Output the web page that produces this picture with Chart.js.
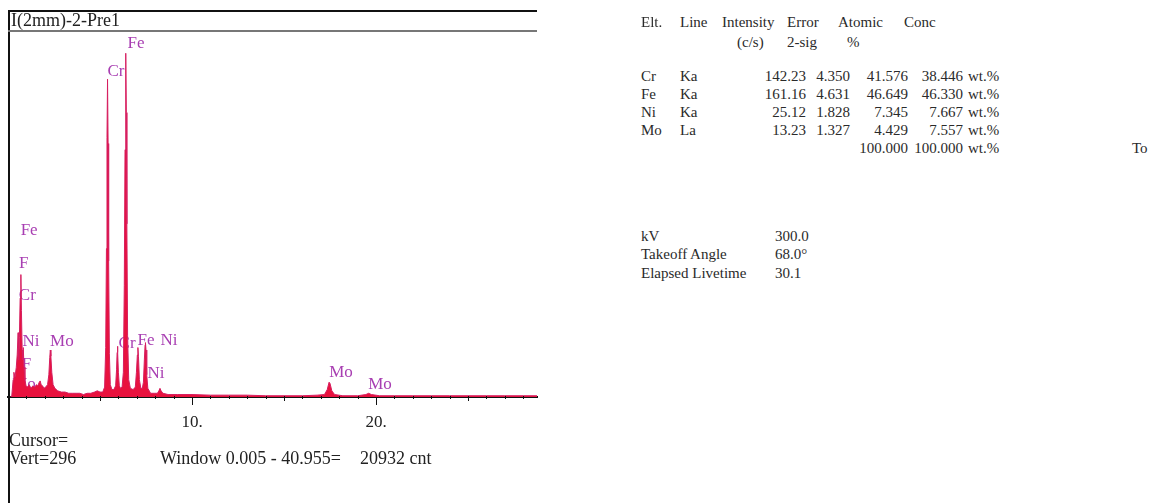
<!DOCTYPE html>
<html>
<head>
<meta charset="utf-8">
<script src="https://cdn.jsdelivr.net/npm/chart.js@4.4.1/dist/chart.umd.min.js"></script>
<style>
  body { margin: 0; background: #fff; width: 1149px; height: 503px; overflow: hidden; position: relative;
         font-family: "Liberation Serif", "Times New Roman", serif; color: #222; }
  #wrap { position: absolute; left: 0; top: 0; width: 545px; height: 503px; }
  .t { position: absolute; white-space: nowrap; line-height: 20px; }
  .r { text-align: right; }
  .frameL { position: absolute; left: 8px; top: 10px; width: 2px; height: 493px; background: #111; }
  .frameT { position: absolute; left: 8px; top: 10px; width: 529px; height: 1.5px; background: #111; }
  .frameB { position: absolute; left: 8px; top: 30px; width: 529px; height: 2px; background: #777; }
  #table { font-size: 15px; color: #2a2a2a; }
  #info { font-size: 18px; }
</style>
</head>
<body>
<div id="wrap"><canvas id="spectrum" width="545" height="503"></canvas></div>
<div class="frameL"></div><div class="frameT"></div><div class="frameB"></div>
<div id="info">
  <div class="t" style="left:11px;top:10px;">I(2mm)-2-Pre1</div>
  <div class="t" style="left:9px;top:430px;">Cursor=</div>
  <div class="t" style="left:9px;top:448px;">Vert=296</div>
  <div class="t" style="left:160px;top:448px;">Window 0.005 - 40.955=</div>
  <div class="t" style="left:360px;top:448px;">20932 cnt</div>
</div>
<div id="table"></div>
<script>
// spectrum, energy in keV and counts
const energy = [0.00, 0.20, 0.28, 0.32, 0.38, 0.45, 0.50, 0.55, 0.58, 0.62, 0.66, 0.70, 0.73, 0.77, 0.80, 0.83, 0.87, 0.92, 0.98,
  1.05, 1.15, 1.25, 1.35, 1.45, 1.55, 1.62, 1.70, 1.75, 1.80, 1.88, 1.95, 2.05, 2.15, 2.22, 2.27, 2.30, 2.33, 2.38, 2.45, 2.55,
  2.70, 2.90, 3.10, 3.30, 3.50, 3.70, 3.90, 4.10, 4.30, 4.50, 4.70, 4.85, 5.00, 5.15, 5.25, 5.31, 5.35, 5.38, 5.41, 5.44, 5.47,
  5.51, 5.56, 5.65, 5.75, 5.85, 5.90, 5.93, 5.95, 5.97, 6.00, 6.05, 6.12, 6.20, 6.27, 6.32, 6.36, 6.40, 6.43, 6.46, 6.50, 6.56,
  6.65, 6.80, 6.92, 6.98, 7.03, 7.06, 7.09, 7.14, 7.22, 7.30, 7.36, 7.41, 7.45, 7.47, 7.50, 7.54, 7.60, 7.75, 7.95, 8.12, 8.20,
  8.26, 8.32, 8.42, 8.70, 9.20, 10.0, 11.0, 12.0, 13.0, 14.0, 15.0, 16.0, 16.8, 17.2, 17.35, 17.45, 17.50, 17.60, 17.75, 18.2,
  19.0, 19.45, 19.60, 19.75, 20.2, 21.0, 22.0, 23.0, 24.0, 25.0, 26.0, 27.0, 28.0, 28.75];
const counts = [0, 0, 14, 20, 16, 24, 34, 52, 30, 48, 80, 99, 70, 38, 30, 40, 24, 14, 9,
  8, 10, 7, 9, 8, 10, 9, 12, 13, 10, 9, 7, 8, 10, 18, 32, 38, 33, 20, 10, 7,
  5, 4, 4, 3, 3, 3, 3, 2, 3, 3, 4, 5, 4, 4, 8, 40, 120, 210, 257, 205, 110,
  35, 10, 6, 6, 9, 22, 36, 41, 36, 20, 9, 7, 8, 20, 90, 200, 278, 230, 140, 50, 14,
  7, 6, 8, 20, 34, 40, 33, 14, 7, 7, 12, 30, 42, 44, 38, 18, 7, 3, 3, 3, 5,
  7, 5, 3, 2, 2, 2, 1.5, 1.5, 1.5, 1, 1, 1, 1.5, 2, 6, 12, 11, 5, 2, 1,
  1, 2, 3, 2, 1, 1, 1, 1, 1, 1, 1, 1, 1, 1];

// element markers on the spectrum
const markText = ['Fe', 'Cr', 'Fe', 'F', 'Cr', 'Ni', 'Mo', 'F', 'Mo', 'Cr', 'Fe', 'Ni', 'Ni', 'Mo', 'Mo'];
const markEnergy = [6.96, 5.87, 1.15, 0.85, 1.05, 1.25, 2.93, 1.0, 0.87, 6.47, 7.50, 8.75, 8.04, 18.10, 20.22];
const markCounts = [286, 263, 135, 108, 82, 45, 45, 26, 10, 43, 46, 46, 19, 20, 10];

const tickLabels = { 10: '10.', 20: '20.' };
const vertScale = 296;

// quant table
const elts = ['Cr', 'Fe', 'Ni', 'Mo'];
const lines = ['Ka', 'Ka', 'Ka', 'La'];
const intensity = ['142.23', '161.16', '25.12', '13.23'];
const errors = ['4.350', '4.631', '1.828', '1.327'];
const atomic = ['41.576', '46.649', '7.345', '4.429'];
const conc = ['38.446', '46.330', '7.667', '7.557'];

function txt(s, x, y, right) {
  if (right) return `<div class="t r" style="right:${1149 - x}px;top:${y - 10}px;">${s}</div>`;
  return `<div class="t" style="left:${x}px;top:${y - 10}px;">${s}</div>`;
}

let html = '';
html += txt('Elt.', 641, 22) + txt('Line', 680, 22) + txt('Intensity', 722, 22) + txt('Error', 787, 22)
  + txt('Atomic', 838, 22) + txt('Conc', 904, 22);
html += txt('(c/s)', 737, 42) + txt('2-sig', 787, 42) + txt('%', 847, 42);
elts.forEach((e, i) => {
  const y = 76 + i * 18;
  html += txt(e, 641, y) + txt(lines[i], 680, y) + txt(intensity[i], 806, y, true) + txt(errors[i], 850, y, true)
    + txt(atomic[i], 908, y, true) + txt(conc[i], 963, y, true) + txt('wt.%', 968, y);
});
html += txt('100.000', 908, 148, true) + txt('100.000', 963, 148, true) + txt('wt.%', 968, 148) + txt('To', 1132, 148);
html += txt('kV', 641, 236) + txt('300.0', 775, 236);
html += txt('Takeoff Angle', 641, 254) + txt('68.0°', 775, 254);
html += txt('Elapsed Livetime', 641, 273) + txt('30.1', 775, 273);
document.getElementById('table').innerHTML = html;

const markers = {
  id: 'markers',
  beforeDatasetsDraw(chart) {
    const ctx = chart.ctx;
    const x = chart.scales.x, y = chart.scales.y;
    ctx.save();
    ctx.font = '17px "Liberation Serif", serif';
    ctx.fillStyle = 'rgb(168,62,178)';
    ctx.textAlign = 'center';
    ctx.textBaseline = 'middle';
    markText.forEach((t, i) => {
      ctx.fillText(t, x.getPixelForValue(markEnergy[i]), y.getPixelForValue(markCounts[i]));
    });
    ctx.restore();
  },
  afterDraw(chart) {
    // tick marks along the energy axis
    const ctx = chart.ctx;
    const x = chart.scales.x;
    const base = chart.chartArea.bottom;
    ctx.save();
    ctx.strokeStyle = '#111';
    ctx.lineWidth = 1;
    for (let e = 1; e <= 28; e++) {
      const px = Math.round(x.getPixelForValue(e)) + 0.5;
      let down = 2, up = 1;
      if (e % 10 === 0) { down = 8; up = 0; }
      else if (e % 5 === 0) { down = 4; up = 1; }
      ctx.beginPath();
      ctx.moveTo(px, base - up);
      ctx.lineTo(px, base + down);
      ctx.stroke();
    }
    ctx.restore();
  }
};

new Chart(document.getElementById('spectrum').getContext('2d'), {
  type: 'line',
  data: {
    datasets: [{
      data: energy.map((e, i) => ({ x: e, y: counts[i] })),
      borderColor: 'rgb(214,30,96)',
      backgroundColor: 'rgb(232,18,62)',
      borderWidth: 1,
      pointRadius: 0,
      tension: 0,
      fill: 'origin'
    }]
  },
  options: {
    responsive: false,
    animation: false,
    devicePixelRatio: 1,
    layout: { padding: { left: 8, right: 8, top: 31, bottom: 66 } },
    plugins: { legend: { display: false }, tooltip: { enabled: false } },
    scales: {
      x: {
        type: 'linear',
        min: 0,
        max: 28.75,
        afterFit: (s) => { s.height = 40; },
        grid: { display: false },
        border: { display: true, color: '#111', width: 2 },
        ticks: {
          stepSize: 10,
          autoSkip: false,
          maxRotation: 0,
          padding: 7,
          color: '#222',
          font: { family: '"Liberation Serif", serif', size: 17 },
          callback: (v) => tickLabels[v] || ''
        }
      },
      y: { display: false, min: 0, max: vertScale }
    }
  },
  plugins: [markers]
});
</script>
</body>
</html>
